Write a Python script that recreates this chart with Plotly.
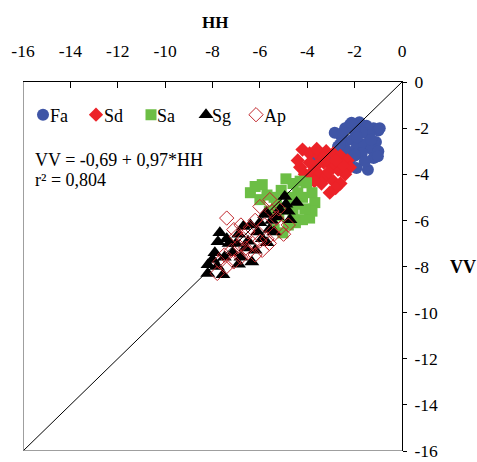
import plotly.graph_objects as go

# ---- data (HH, VV) ----
fa_hh = [-2.2, -1.8, -1.5, -1.2, -1.0, -0.94, -1.1, -1.4, -1.7, -2.0, -2.4, -2.6, -2.84, -2.7, -2.4, -2.1,
         -1.9, -1.6, -1.3, -1.0, -2.3, -2.0, -1.7, -1.44, -1.2, -1.92, -1.57, -1.02, -2.2, -3.3, -3.6, -3.0,
         -2.5, -1.9, -1.3, -2.62, -2.13, -1.99]
fa_vv = [-1.85, -1.75, -1.9, -2.0, -2.1, -2.0, -2.6, -2.3, -2.2, -2.1, -2.0, -2.3, -2.2, -2.8, -2.6, -2.5,
         -2.8, -2.7, -2.9, -3.0, -3.0, -3.2, -3.1, -3.8, -3.3, -3.73, -3.44, -3.22, -3.4, -3.1, -3.2, -3.3,
         -2.2, -2.4, -2.5, -2.71, -1.77, -3.15]

sd_hh = [-4.2, -3.9, -3.5, -3.2, -2.9, -2.6, -2.3, -2.2, -2.4, -2.7, -3.0, -3.3, -3.6, -3.9, -4.3, -4.1,
         -3.8, -3.5, -3.2, -2.9, -2.6, -2.8, -3.05, -3.4, -3.7, -4.0, -2.5, -3.1, -3.3, -2.8, -4.4, -3.6]
sd_vv = [-2.93, -3.1, -3.2, -3.0, -3.1, -3.2, -3.4, -3.7, -4.0, -3.8, -3.6, -3.5, -3.6, -3.5, -3.7, -4.0,
         -3.9, -4.0, -4.1, -4.3, -4.4, -4.6, -4.8, -4.4, -4.3, -4.3, -3.6, -3.9, -3.3, -3.4, -3.4, -2.9]

sa_hh = [-6.4, -6.2, -5.9, -5.7, -6.0, -5.4, -5.1, -4.9, -4.6, -4.3, -4.03, -3.8, -3.68, -3.8, -3.9, -4.2,
         -4.5, -4.8, -5.03, -5.4, -5.2, -4.9, -4.5, -4.2, -4.4, -4.7, -5.6, -4.1, -4.6, -5.3]
sa_vv = [-4.8, -4.53, -4.45, -4.9, -5.1, -5.0, -4.7, -4.2, -4.4, -4.3, -4.37, -4.8, -5.23, -5.6, -5.9, -5.97,
         -6.1, -6.2, -6.54, -6.4, -5.8, -5.5, -5.3, -5.0, -4.8, -5.0, -5.6, -5.5, -5.7, -5.3]

sg_hh = [-8.2, -7.56, -8.19, -8.0, -7.9, -7.77, -7.69, -7.4, -7.14, -7.0, -6.9, -6.7, -6.5, -6.34, -6.2, -6.1,
         -6.0, -5.8, -5.7, -5.6, -5.5, -5.28, -5.16, -4.95, -4.9, -4.73, -4.45, -4.8, -5.72, -6.4, -7.3, -7.5,
         -6.8, -6.6, -5.9, -5.4, -6.9, -7.8]
sg_vv = [-8.3, -8.36, -7.92, -7.7, -7.4, -6.93, -6.54, -6.8, -7.4, -7.0, -6.6, -6.27, -6.9, -7.8, -7.3, -6.5,
         -6.1, -5.75, -6.97, -6.4, -6.0, -5.84, -5.54, -4.97, -5.3, -5.97, -5.23, -5.6, -5.67, -6.2, -7.0, -7.6,
         -7.6, -7.2, -6.8, -6.5, -7.9, -8.0]

ap_hh = [-7.4, -7.1, -6.8, -6.5, -6.2, -6.0, -5.58, -5.5, -5.3, -5.1, -5.4, -5.7, -6.0, -6.3, -6.6, -6.9,
         -7.2, -7.5, -7.7, -7.4, -7.1, -6.8, -6.5, -6.2, -5.9, -5.6, -5.0, -4.8, -5.2, -6.4, -6.7, -7.0,
         -5.8, -7.8]
ap_vv = [-5.9, -6.4, -6.2, -6.5, -6.0, -5.4, -5.1, -5.6, -5.9, -6.3, -6.6, -6.8, -6.9, -7.0, -7.2, -7.1,
         -7.3, -7.5, -7.8, -8.0, -7.8, -7.6, -7.4, -7.5, -7.3, -7.0, -6.6, -6.2, -5.5, -6.3, -6.8, -6.7,
         -6.2, -8.3]

line_hh = [-16, 0]
line_vv = [-16, 0]

x_ticks = [-16, -14, -12, -10, -8, -6, -4, -2, 0]
y_ticks = [0, -2, -4, -6, -8, -10, -12, -14, -16]

series_names = ["Fa", "Sd", "Sa", "Sg", "Ap"]

FONT = "Liberation Serif, Times New Roman, serif"

fig = go.Figure()
fig.add_trace(go.Scatter(x=fa_hh, y=fa_vv, mode="markers", name=" ", legend="legend",
                         marker=dict(symbol="circle", size=12, color="#3F55A6")))
fig.add_trace(go.Scatter(x=sd_hh, y=sd_vv, mode="markers", name=" ", legend="legend2",
                         marker=dict(symbol="diamond", size=11, color="#EC2228")))
fig.add_trace(go.Scatter(x=sa_hh, y=sa_vv, mode="markers", name=" ", legend="legend3",
                         marker=dict(symbol="square", size=11, color="#6CBE45")))
fig.add_trace(go.Scatter(x=sg_hh, y=sg_vv, mode="markers", name=" ", legend="legend4",
                         marker=dict(symbol="triangle-up", size=13, color="#000000")))
fig.add_trace(go.Scatter(x=ap_hh, y=ap_vv, mode="markers", name=" ", legend="legend5",
                         marker=dict(symbol="diamond-open", size=11, color="#C1272D",
                                     line=dict(width=1, color="#C1272D"))))
fig.add_trace(go.Scatter(x=line_hh, y=line_vv, mode="lines", showlegend=False,
                         line=dict(color="black", width=1)))

# screen geometry (page body margin removed by post_script below)
SW, SH = 477, 462                 # screen size
PL, PR, PT, PB = 23, 402, 82, 451  # plot area in screen pixels
W, H = SW, SH
L, T = PL, PT
R, B = SW - PR, SH - PB
pw = PR - PL
ph = PB - PT


def px_x(sx):
    return (sx - PL) / pw


def px_y(sy):
    return 1 - (sy - PT) / ph


# one legend box per item (symbol only) to match the reference spacing; names as text beside
leg_px = [42, 95, 150, 205, 255]
txt_px = [48, 102, 155, 210, 262]
legs = {}
for i, px in enumerate(leg_px):
    key = "legend" if i == 0 else f"legend{i+1}"
    legs[key] = dict(x=max(0.0, px_x(px - 19)), y=px_y(115), xanchor="left",
                     yanchor="middle", bgcolor="rgba(0,0,0,0)", borderwidth=0, itemwidth=30,
                     font=dict(family=FONT, size=18, color="black"), tracegroupgap=0)

annotations = [
    dict(text="<b>HH</b>", xref="paper", yref="paper", x=px_x(215), y=px_y(22),
         showarrow=False, xanchor="center", yanchor="middle",
         font=dict(family=FONT, size=17, color="black")),
    dict(text="<b>VV</b>", xref="paper", yref="y", x=px_x(463), y=-8,
         showarrow=False, xanchor="center", yanchor="middle",
         font=dict(family=FONT, size=18, color="black")),
    dict(text="VV = -0,69 + 0,97*HH", xref="paper", yref="paper", x=px_x(33),
         y=px_y(160), showarrow=False, xanchor="left", yanchor="middle",
         font=dict(family=FONT, size=18, color="black")),
    dict(text="r² = 0,804", xref="paper", yref="paper", x=px_x(33),
         y=px_y(180), showarrow=False, xanchor="left", yanchor="middle",
         font=dict(family=FONT, size=18, color="black")),
]
for name, tx in zip(series_names, txt_px):
    annotations.append(dict(text=name, xref="paper", yref="paper", x=px_x(tx),
                            y=px_y(116), showarrow=False, xanchor="left",
                            yanchor="middle", font=dict(family=FONT, size=18, color="black")))

fig.update_layout(
    width=W, height=H,
    margin=dict(l=L, r=R, t=T, b=B, autoexpand=False),
    plot_bgcolor="white", paper_bgcolor="white",
    font=dict(family=FONT, color="black"),
    showlegend=True,
    **legs,
    xaxis=dict(range=[-16, 0], side="top", tickvals=x_ticks, ticktext=[str(v) for v in x_ticks],
               ticks="inside", ticklen=6, tickcolor="black", showline=True, linecolor="black",
               linewidth=1, showgrid=False, zeroline=False, automargin=False,
               tickfont=dict(family=FONT, size=17.5, color="black"), ticklabelstandoff=17),
    yaxis=dict(range=[-16, 0], side="right", tickvals=y_ticks, ticktext=[str(v) for v in y_ticks],
               ticks="outside", ticklen=4, tickcolor="black", showline=True, linecolor="black",
               linewidth=1, showgrid=False, zeroline=False, automargin=False,
               tickfont=dict(family=FONT, size=17.5, color="black"), ticklabelstandoff=4),
    shapes=[
        dict(type="line", xref="x", yref="y", x0=-16, x1=-16, y0=-16, y1=0,
             line=dict(color="#7F7F7F", width=1.5)),
        dict(type="line", xref="x", yref="y", x0=-16, x1=0, y0=-16, y1=-16,
             line=dict(color="#7F7F7F", width=1.5)),
    ],
    annotations=annotations,
)

fig.write_html(
    "out.html",
    config={"displayModeBar": False},
    post_script="document.body.style.margin='0';document.body.style.overflow='hidden';",
)
